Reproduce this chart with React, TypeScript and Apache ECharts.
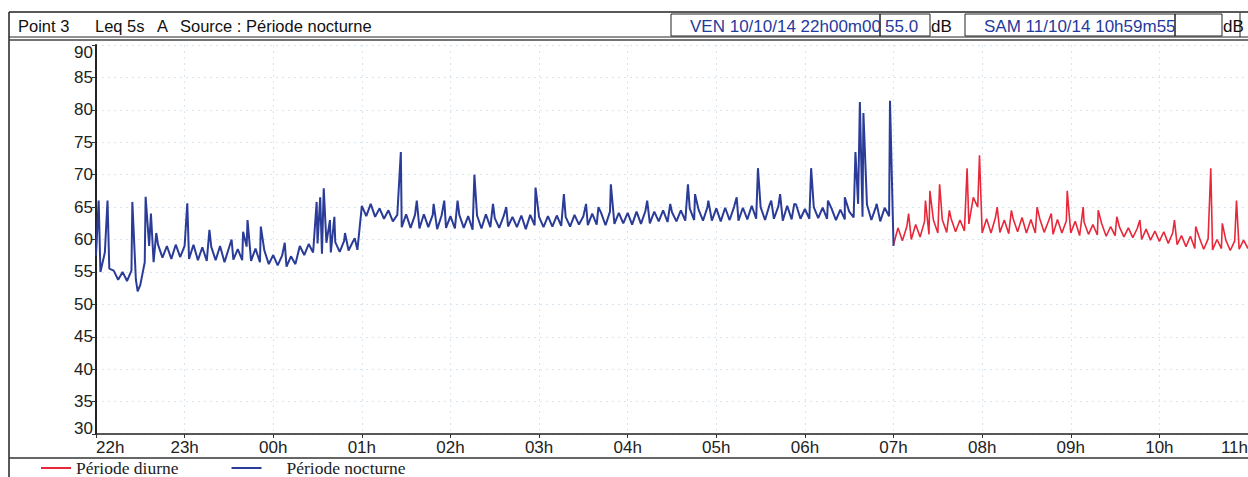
import React, { useEffect, useRef } from "react";
import * as echarts from "echarts";

// Time axis: hours elapsed since 22h00 (0 = 22h, 13 = 11h)
const hourLabels = ["22h", "23h", "00h", "01h", "02h", "03h", "04h", "05h", "06h", "07h", "08h", "09h", "10h", "11h"];
const yTicks = [30, 35, 40, 45, 50, 55, 60, 65, 70, 75, 80, 85, 90];

const stepHours = 0.05; // one level every 3 minutes

// Night period (22h -> 07h), one level every 3 minutes, dB(A)
const nightLevels: number[] = [
  57.5, 55, 58, 55.5, 55.2, 53.8, 55, 53.6, 55.2, 53.8, 53, 56.5, 59, 56.5, 59.2, 57.2, 59, 57, 59.2, 57.3,
  59, 57, 59.2, 56.8, 58.8, 56.7, 58.9, 56.8, 59, 56.5, 58.7, 56.9, 58.5, 56.8, 58.9, 56.7, 58.6, 56.5, 58.3, 56.2,
  57.6, 56, 57.5, 55.8, 57.4, 56.2, 59, 57.6, 59.3, 58, 59.4, 57.8, 59.5, 58, 59.6, 58.1, 59.8, 58.3, 59.7, 58.4,
  65.2, 63.6, 65.5, 63.5, 64.8, 63.2, 64.5, 62.8, 63.8, 61.9, 63.9, 61.8, 63.8, 61.7, 63.9, 61.9, 63.8, 61.6, 63.7, 61.8,
  63.6, 61.7, 63.8, 61.8, 63.6, 61.5, 63.7, 61.7, 63.9, 61.9, 63.3, 61.8, 63.6, 62, 63.5, 61.9, 63.7, 61.6, 63.8, 62.2,
  63.5, 61.9, 63.6, 62, 63.7, 62.1, 63.5, 62, 63.8, 62.3, 63.6, 62.2, 64, 62.3, 64.1, 62.2, 64.3, 62.4, 64.1, 62.5,
  64.1, 62.3, 64.3, 62.4, 64.4, 62.5, 64.3, 62.8, 64.5, 62.7, 64.2, 62.8, 64.5, 62.9, 64.8, 63, 64.6, 62.9, 65, 62.9,
  64.8, 62.8, 64.9, 63, 65, 62.9, 64.9, 63.1, 65.2, 63.2, 65, 63, 65.3, 63.2, 65.1, 62.9, 65.2, 63.1, 65.4, 63.2,
  64.7, 63.2, 65, 63.3, 64.9, 63.2, 64.8, 63, 64.6, 63.1, 64.3, 63.4, 65.5, 63.5, 65.4, 63, 65, 62.8, 64.9, 63.6, 59,
];

// Night short events [hours since 22h, dB(A)]
const nightSpikes: [number, number][] = [
  [0.03, 66], [0.13, 66], [0.41, 65.8], [0.47, 52], [0.56, 66.6], [0.62, 64], [0.68, 61],
  [1.03, 65.6], [1.28, 61.5], [1.53, 60], [1.66, 61.2], [1.71, 63], [1.86, 62],
  [2.13, 59.5], [2.49, 65.8], [2.53, 66.5], [2.57, 67.9], [2.64, 63], [2.69, 63.5], [2.81, 61], [2.92, 60.2],
  [3.44, 73.5], [3.62, 66], [3.81, 65.5], [3.93, 66],
  [4.08, 66], [4.27, 70], [4.48, 65.5], [4.63, 65], [4.96, 68],
  [5.28, 67], [5.53, 65.5], [5.67, 65], [5.81, 68.5],
  [6.22, 66], [6.48, 65.5], [6.68, 68.5], [6.76, 67], [6.91, 66],
  [7.23, 66.5], [7.47, 71], [7.62, 66], [7.72, 67], [7.88, 65.5],
  [8.07, 71], [8.26, 66], [8.45, 66.5], [8.57, 73.5], [8.62, 81.2], [8.66, 79.5], [8.81, 65.5], [8.96, 81.4],
];

// Day period (07h -> 11h), one level every 3 minutes, dB(A)
const dayStart = 9;
const dayLevels: number[] = [
  59.2, 61.8, 59.8, 62, 60, 62.3, 60.4, 62.8, 60.8, 63, 61, 63.1, 61.1, 63.2, 61.2, 63, 61.3, 62.4, 66.5, 65,
  61, 63.2, 61, 63.4, 61.1, 63, 60.9, 63.2, 61.2, 63.4, 61, 63.1, 61, 63.2, 61.1, 62.9, 60.8, 63.1, 61, 62.9,
  61, 62.8, 60.6, 62.7, 60.8, 62.3, 60.7, 62.4, 60.5, 62, 60.6, 61.9, 60.4, 61.8, 60.3, 61.7, 60, 61.6, 59.9, 61.3,
  59.7, 61.2, 59.4, 61, 59.2, 60.6, 58.9, 60.5, 58.6, 60.3, 58.5, 60.1, 58.4, 60, 58.6, 59.9, 58.3, 59.8, 58.5, 59.9, 58.6,
];

const daySpikes: [number, number][] = [
  [9.17, 64], [9.36, 66], [9.41, 67.5], [9.52, 68.5], [9.63, 64.5], [9.83, 71], [9.97, 73],
  [10.17, 65], [10.33, 64.5], [10.62, 65], [10.78, 64], [10.96, 67.5],
  [11.14, 65], [11.31, 64.5], [11.52, 63.5], [11.78, 63],
  [12.17, 63], [12.41, 62], [12.58, 71], [12.71, 62.5], [12.87, 66],
];

function buildSeries(start: number, levels: number[], spikes: [number, number][]): [number, number][] {
  const pts: [number, number][] = levels.map((v, i) => [+(start + i * stepHours).toFixed(3), v]);
  return pts.concat(spikes).sort((a, b) => a[0] - b[0]);
}

const SANS = "Liberation Sans, Arial, sans-serif";
const SERIF = "Liberation Serif, Times New Roman, serif";
const BLUE_TXT = "#1f3a9c";

export default function App() {
  const ref = useRef<HTMLDivElement>(null);

  useEffect(() => {
    if (!ref.current) return;
    const chart = echarts.init(ref.current, undefined, { renderer: "svg" });

    const headerTexts = [
      { x: 18, text: "Point 3", fill: "#111", size: 16.5 },
      { x: 95, text: "Leq 5s", fill: "#111", size: 16.5 },
      { x: 157, text: "A", fill: "#111", size: 16.5 },
      { x: 180, text: "Source : Période nocturne", fill: "#111", size: 16.5 },
      { x: 690, text: "VEN 10/10/14 22h00m00", fill: BLUE_TXT, size: 17 },
      { x: 885, text: "55.0", fill: BLUE_TXT, size: 17 },
      { x: 931, text: "dB", fill: "#111", size: 17 },
      { x: 984, text: "SAM 11/10/14 10h59m55", fill: BLUE_TXT, size: 17 },
      { x: 1223, text: "dB", fill: "#111", size: 17 },
    ];

    const boxes = [
      [671, 880],
      [880, 930],
      [965, 1175],
      [1175, 1222],
    ];

    const graphic: any[] = [
      { type: "line", shape: { x1: 9, y1: 12, x2: 1248, y2: 12 }, style: { stroke: "#222", lineWidth: 1.5 } },
      { type: "line", shape: { x1: 9, y1: 12, x2: 9, y2: 477 }, style: { stroke: "#222", lineWidth: 1.5 } },
      { type: "line", shape: { x1: 9, y1: 37, x2: 1248, y2: 37 }, style: { stroke: "#222", lineWidth: 1 } },
      { type: "line", shape: { x1: 9, y1: 40, x2: 1248, y2: 40 }, style: { stroke: "#444", lineWidth: 1.5 } },
      { type: "line", shape: { x1: 9, y1: 458, x2: 1248, y2: 458 }, style: { stroke: "#333", lineWidth: 1.5 } },
      { type: "line", shape: { x1: 1240, y1: 13, x2: 1240, y2: 37 }, style: { stroke: "#222", lineWidth: 1 } },
      ...boxes.map(([a, b]) => ({
        type: "rect",
        shape: { x: a, y: 14, width: b - a, height: 22 },
        style: { fill: "none", stroke: "#222", lineWidth: 1 },
      })),
      ...headerTexts.map((t) => ({
        type: "text",
        x: t.x,
        y: 26,
        style: { text: t.text, fill: t.fill, font: `${t.size}px ${SANS}`, verticalAlign: "middle", align: "left" },
      })),
    ];

    chart.setOption({
      animation: false,
      backgroundColor: "#fff",
      grid: { left: 96, top: 45, right: 0, height: 389, containLabel: false, outerBoundsMode: "none" },
      legend: {
        left: 36,
        top: 459,
        padding: [0, 5],
        icon: "rect",
        itemWidth: 30,
        itemHeight: 2,
        itemGap: 53,
        textStyle: {
          fontFamily: SERIF,
          fontSize: 17.5,
          color: "#222",
          rich: {
            n: { fontFamily: SERIF, fontSize: 17.5, color: "#222", padding: [0, 0, 0, 20] },
          },
        },
        formatter: (name: string) => (name === "Période nocturne" ? `{n|${name}}` : name),
        data: ["Période diurne", "Période nocturne"],
      },
      xAxis: {
        type: "value",
        min: 0,
        max: 13,
        interval: 1,
        axisLine: { show: true, lineStyle: { color: "#222", width: 1.5 } },
        axisTick: { show: true, length: 4, lineStyle: { color: "#333" } },
        axisLabel: {
          color: "#222",
          fontFamily: SANS,
          fontSize: 17,
          margin: 5,
          alignMinLabel: "left",
          alignMaxLabel: "right",
          formatter: (v: number) => hourLabels[Math.round(v)] ?? "",
        },
        splitLine: { show: true, lineStyle: { color: "#d8e6f2", type: [2, 4], width: 1 } },
      },
      yAxis: {
        type: "value",
        min: yTicks[0],
        max: yTicks[yTicks.length - 1],
        interval: 5,
        axisLine: { show: true, lineStyle: { color: "#222", width: 2 } },
        axisTick: { show: true, length: 4, lineStyle: { color: "#333" } },
        axisLabel: {
          color: "#222",
          fontFamily: SANS,
          fontSize: 17,
          margin: 3,
          formatter: (v: number) => (v === 90 ? `{top|${v}}` : v === 30 ? `{bot|${v}}` : `${v}`),
          rich: {
            top: { fontFamily: SANS, fontSize: 17, color: "#222", padding: [14, 0, 0, 0] },
            bot: { fontFamily: SANS, fontSize: 17, color: "#222", padding: [0, 0, 12, 0] },
          },
        },
        splitLine: { show: true, lineStyle: { color: "#d8e6f2", type: [2, 4], width: 1 } },
      },
      series: [
        {
          name: "Période diurne",
          type: "line",
          showSymbol: false,
          symbol: "none",
          color: "#e8283a",
          lineStyle: { width: 1.6, color: "#e8283a" },
          data: buildSeries(dayStart, dayLevels, daySpikes),
        },
        {
          name: "Période nocturne",
          type: "line",
          showSymbol: false,
          symbol: "none",
          color: "#2a3c98",
          lineStyle: { width: 2, color: "#2a3c98" },
          data: buildSeries(0, nightLevels, nightSpikes),
        },
      ],
      graphic,
    });

    return () => chart.dispose();
  }, []);

  return (
    <div
      ref={ref}
      style={{ position: "fixed", left: 0, top: 0, width: 1248, height: 477, background: "#fff" }}
    />
  );
}
